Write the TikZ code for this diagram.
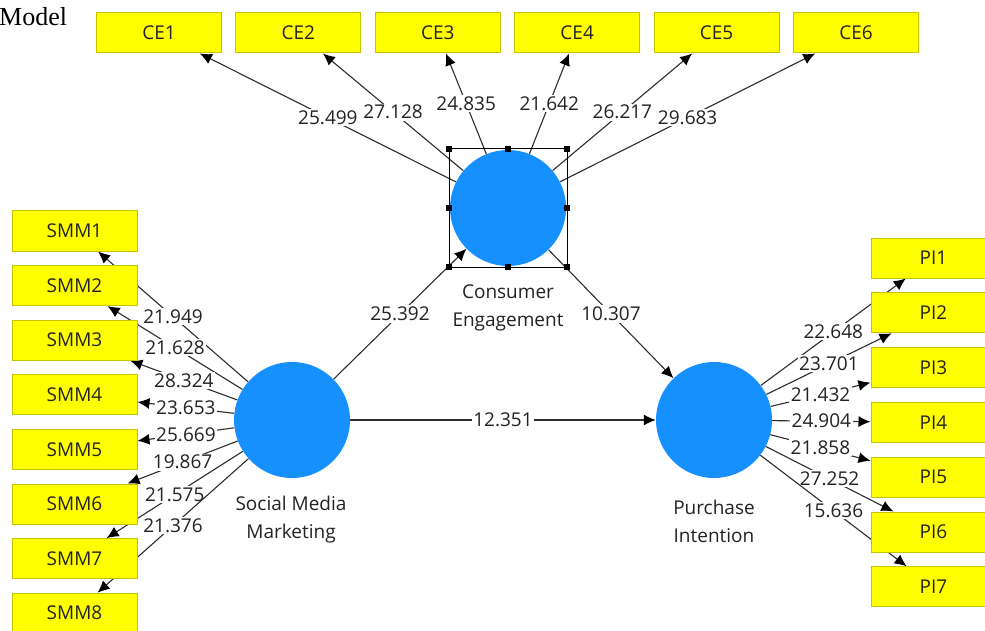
\documentclass[tikz,border=0pt]{standalone}
\usepackage{fontspec}
\setmainfont{Open Sans}
\newfontfamily\serifm{Liberation Serif}
\usetikzlibrary{arrows.meta,backgrounds}
\definecolor{lvblue}{RGB}{22,144,255}
\definecolor{boxyellow}{RGB}{255,255,0}
\definecolor{boxedge}{RGB}{196,196,0}
\definecolor{txtgray}{RGB}{35,35,35}
\definecolor{linegray}{RGB}{45,45,45}
\begin{document}
\begin{tikzpicture}[x=1pt,y=-1pt,
  every node/.style={font=\fontsize{19}{28}\selectfont, text=txtgray},
  latent/.style={circle, fill=lvblue, minimum size=116pt, inner sep=0pt},
  indicator/.style={rectangle, fill=boxyellow, draw=boxedge, line width=1pt, minimum width=125pt, minimum height=40pt, inner sep=0pt},
  lvname/.style={align=center, text=txtgray},
  conn/.style={draw=linegray, line width=1.1pt, -{Latex[length=12pt,width=11pt,fill=black,color=black]}},
  wlabel/.style={fill=white, inner sep=1.5pt, midway},
  handle/.style={rectangle, fill=black, minimum size=6pt, inner sep=0pt}
]
\useasboundingbox (0,0) rectangle (985,631);
\begin{pgfonlayer}{background}
\fill[white] (0,0) rectangle (985,631);
\end{pgfonlayer}

\node[font=\serifm\fontsize{26}{28}\selectfont, text=black, anchor=base west, inner sep=0pt] (title) at (-1,26) {Model};

% latent variables
\node[latent] (ce) at (508,208) {};
\node[latent] (smm) at (292,420) {};
\node[latent] (pi) at (714,420) {};

\node[lvname] (cename) at (508,308) {Consumer\\Engagement};
\node[lvname] (smmname) at (291,520) {Social Media\\Marketing};
\node[lvname] (piname) at (714,521) {Purchase\\Intention};

% selection frame
\draw[black, line width=1pt] (449,149) rectangle (567,267);
\foreach \hx/\hy [count=\k] in {449/149,508/149,567/149,449/208,567/208,449/267,508/267,567/267}
  \node[handle] (h\k) at (\hx,\hy) {};

% indicators
\foreach \i in {1,...,6}
  \node[indicator] (ce\i) at ({159+(\i-1)*139.4},33) {CE\i};
\foreach \i in {1,...,8}
  \node[indicator] (smm\i) at (74.5,{231+(\i-1)*54.6}) {SMM\i};
\foreach \i in {1,...,7}
  \node[indicator] (pi\i) at (933.5,{258+(\i-1)*54.8}) {PI\i};

\begin{pgfonlayer}{background}
% outer loadings CE
\foreach \i/\v in {1/25.499,2/27.128,3/24.835,4/21.642,5/26.217,6/29.683}
  \draw[conn] (ce) -- (ce\i) node[wlabel] {\v};
% outer loadings SMM
\foreach \i/\v in {1/21.949,2/21.628,3/28.324,4/23.653,5/25.669,6/19.867,7/21.575,8/21.376}
  \draw[conn] (smm) -- (smm\i) node[wlabel] {\v};
% outer loadings PI
\foreach \i/\v in {1/22.648,2/23.701,3/21.432,4/24.904,5/21.858,6/27.252,7/15.636}
  \draw[conn] (pi) -- (pi\i) node[wlabel] {\v};
% structural paths
\draw[conn] (smm) -- (ce) node[wlabel] {25.392};
\draw[conn] (ce) -- (pi) node[wlabel] {10.307};
\draw[conn] (smm) -- (pi) node[wlabel] {12.351};
\end{pgfonlayer}
\end{tikzpicture}
\end{document}
